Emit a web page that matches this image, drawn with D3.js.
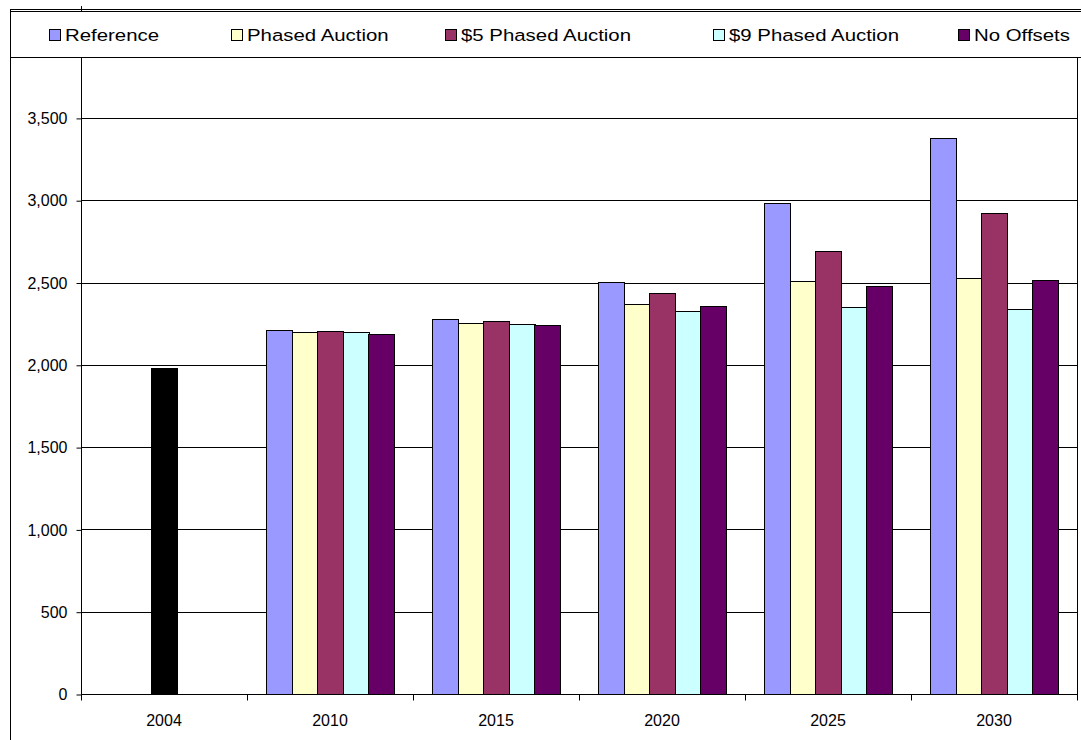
<!DOCTYPE html>
<html>
<head>
<meta charset="utf-8">
<script src="https://cdn.jsdelivr.net/npm/d3@7"></script>
<style>
  body { margin: 0; background: #fff; }
  svg { display: block; font-family: "Liberation Sans", Arial, sans-serif; }
</style>
</head>
<body>
<div id="chart"></div>
<script>
const categories = ["2004", "2010", "2015", "2020", "2025", "2030"];
const seriesNames = ["Reference", "Phased Auction", "$5 Phased Auction", "$9 Phased Auction", "No Offsets"];
const seriesColors = ["#9999FF", "#FFFFCC", "#993366", "#CCFFFF", "#660066"];

// 2004 is the single historical bar (drawn black)
const historical = [1979, null, null, null, null, null];
const reference = [null, 2213, 2276, 2505, 2985, 3380];
const phasedAuction = [null, 2197, 2256, 2369, 2511, 2529];
const phased5 = [null, 2203, 2264, 2434, 2691, 2920];
const phased9 = [null, 2197, 2250, 2327, 2349, 2341];
const noOffsets = [null, 2189, 2244, 2359, 2481, 2517];
const yTicks = [0, 500, 1000, 1500, 2000, 2500, 3000, 3500];

const allSeries = [reference, phasedAuction, phased5, phased9, noOffsets];

let width = 1081, height = 740;
let svg = d3.select("#chart").append("svg").attr("width", width).attr("height", height);

// chart area border
svg.append("rect").attr("x", 10.5).attr("y", 9.5).attr("width", 1200).attr("height", 800)
  .attr("fill", "#fff").attr("stroke", "#000");

const plot = { left: 81, right: 1077, top: 35.6, bottom: 694 };

let x0 = d3.scaleBand().domain(categories).range([plot.left, plot.right]).paddingInner(0).paddingOuter(0);
let x1 = d3.scaleBand().domain(seriesNames).range([0, x0.bandwidth()]).paddingInner(0).paddingOuter(0.75);
let y = d3.scaleLinear().domain([0, 4000]).range([plot.bottom, plot.top]);

// gridlines
svg.append("g").selectAll("line").data(yTicks.filter(d => d > 0)).join("line")
  .attr("x1", plot.left).attr("x2", plot.right)
  .attr("y1", d => Math.round(y(d)) + 0.5).attr("y2", d => Math.round(y(d)) + 0.5)
  .attr("stroke", "#000").attr("stroke-width", 1);

// plot area right border
svg.append("line").attr("x1", plot.right + 0.5).attr("x2", plot.right + 0.5)
  .attr("y1", plot.top).attr("y2", plot.bottom).attr("stroke", "#000");

// bars
let groups = svg.append("g").selectAll("g").data(categories).join("g")
  .attr("transform", d => `translate(${x0(d)},0)`);

groups.selectAll("rect.s").data((c, i) => allSeries.map((s, k) => ({ name: seriesNames[k], value: s[i], color: seriesColors[k] })).filter(d => d.value != null))
  .join("rect").attr("class", "s")
  .attr("x", d => Math.round(x1(d.name)) + 0.5)
  .attr("width", Math.round(x1.bandwidth()))
  .attr("y", d => Math.round(y(d.value)) + 0.5)
  .attr("height", d => Math.round(y(0)) - Math.round(y(d.value)))
  .attr("fill", d => d.color).attr("stroke", "#000").attr("stroke-width", 1);

groups.selectAll("rect.h").data((c, i) => historical[i] != null ? [historical[i]] : [])
  .join("rect").attr("class", "h")
  .attr("x", Math.round(x1(seriesNames[2])) + 0.5)
  .attr("width", Math.round(x1.bandwidth()))
  .attr("y", d => Math.round(y(d)) + 0.5)
  .attr("height", d => Math.round(y(0)) - Math.round(y(d)))
  .attr("fill", "#000").attr("stroke", "#000");

// y axis
let yAxis = d3.axisLeft(y).tickValues(yTicks).tickSize(5).tickPadding(9)
  .tickFormat(d3.format(","));
let gy = svg.append("g").attr("transform", `translate(${plot.left + 0.5},0.5)`).call(yAxis);
gy.select(".domain").attr("d", `M0,${plot.bottom}V${plot.top - 30}`).attr("stroke", "#000");
gy.selectAll("text").attr("font-size", "16px").attr("fill", "#000").attr("font-family", "Liberation Sans, Arial, sans-serif");
gy.selectAll(".tick line").attr("stroke", "#000");

// x axis: ticks at category boundaries
let gx = svg.append("g").attr("transform", `translate(0,${Math.round(plot.bottom) + 0.5})`);
gx.append("line").attr("x1", plot.left).attr("x2", plot.right + 1).attr("stroke", "#000");
gx.selectAll("line.tk").data(categories.map(c => x0(c)).concat([plot.right])).join("line")
  .attr("class", "tk")
  .attr("x1", d => Math.round(d) + 0.5).attr("x2", d => Math.round(d) + 0.5)
  .attr("y1", 0).attr("y2", 6).attr("stroke", "#000");
gx.selectAll("text").data(categories).join("text")
  .attr("x", d => x0(d) + x0.bandwidth() / 2).attr("y", 31)
  .attr("text-anchor", "middle").attr("font-size", "16px").attr("fill", "#000")
  .text(d => d);

// legend box
let lg = svg.append("g");
lg.append("rect").attr("x", 10.5).attr("y", 11.5).attr("width", 1200).attr("height", 46)
  .attr("fill", "#fff").attr("stroke", "#000");
const legendX = [49, 231, 445, 713, 958];
let items = lg.selectAll("g").data(seriesNames).join("g")
  .attr("transform", (d, i) => `translate(${legendX[i]},0)`);
items.append("rect").attr("x", 0.5).attr("y", 29.5).attr("width", 11).attr("height", 11)
  .attr("fill", (d, i) => seriesColors[i]).attr("stroke", "#000");
items.append("text").attr("transform", "translate(16,41) scale(1.2,1)")
  .attr("font-size", "17px").attr("fill", "#000")
  .text(d => d);
</script>
</body>
</html>
